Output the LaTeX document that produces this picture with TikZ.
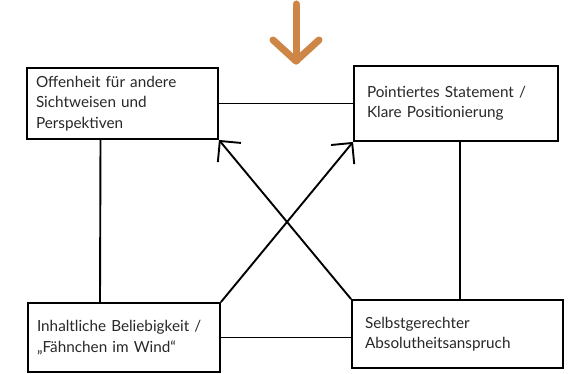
\documentclass[tikz,border=0pt]{standalone}
\usepackage{fontspec}
\setmainfont{Lato}
\usetikzlibrary{arrows.meta}
\definecolor{arroworange}{RGB}{206,134,70}
\definecolor{textgray}{RGB}{40,40,40}
\begin{document}
\begin{tikzpicture}[x=1pt,y=-1pt,line width=1.9pt,
    box/.style={draw=black,rectangle,align=left,inner xsep=9pt,inner ysep=0pt,
        text=textgray,font=\fontsize{15.3}{20.5}\selectfont},
    barb/.style={-{Straight Barb[length=15pt,width=30pt,line width=1.9pt]}}]
    \useasboundingbox[fill=white] (0,0) rectangle (571,374);
    % down arrow on top
    \coordinate (top) at (296,4);
    \coordinate (tip) at (296,61);
    \draw [arroworange,line width=7pt,line cap=round,line join=round] (top) -- (tip);
    \draw [arroworange,line width=7pt,line cap=round,line join=round] (273,40) -- (tip) -- (319,40);
    % the four boxes
    \node[box,minimum width=191pt,minimum height=71pt,text width=173pt] (open) at (122.5,103.5)
        {Offenheit für andere\\Sichtweisen und\\Perspektiven};
    \node[box,minimum width=204pt,minimum height=75pt,text width=186pt] (point) at (456,103.5)
        {\hspace*{4pt}Pointiertes Statement /\\\hspace*{4pt}Klare Positionierung};
    \node[box,minimum width=192pt,minimum height=69pt,text width=174pt] (arbit) at (124,337.5)
        {Inhaltliche Beliebigkeit /\\„Fähnchen im Wind“};
    \node[box,minimum width=211pt,minimum height=68pt,text width=193pt] (self) at (457.5,334)
        {\hspace*{4pt}Selbstgerechter\\\hspace*{4pt}Absolutheitsanspruch};
    % lines between them
    \draw (open.east) -- (point.west);
    \draw (arbit.east) -- (arbit.east -| self.west);
    \draw ([xshift=-22pt]open.south) -- ([xshift=-24pt]arbit.north);
    \draw ([xshift=4pt]point.south) -- ([xshift=2.5pt]self.north);
    \draw [barb] (arbit.north east) -- (point.south west);
    \draw [barb] (self.north west) -- (open.south east);
\end{tikzpicture}
\end{document}
